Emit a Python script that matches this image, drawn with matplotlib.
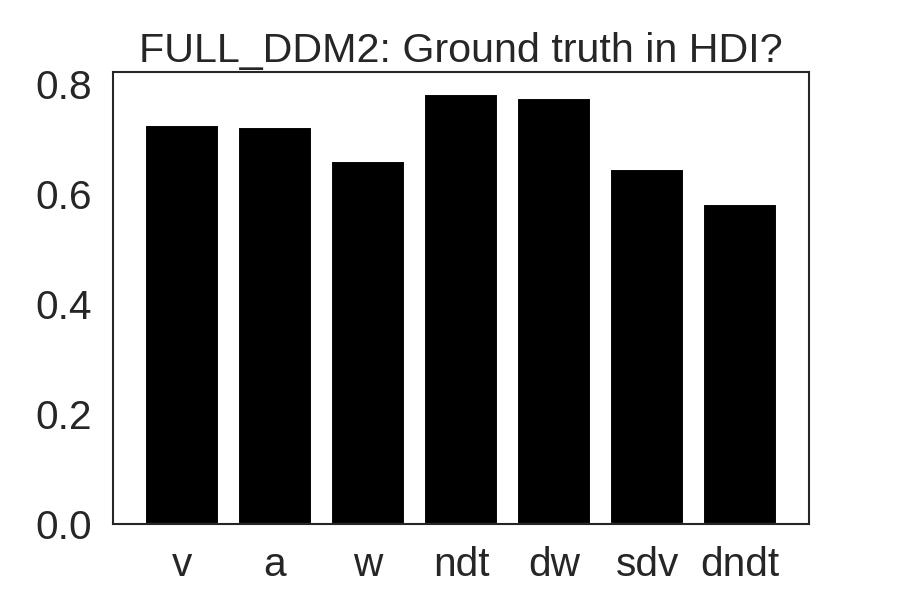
import matplotlib
matplotlib.use("Agg")
import matplotlib.pyplot as plt
import seaborn as sns

params = ["v", "a", "w", "ndt", "dw", "sdv", "dndt"]
in_hdi = [0.724, 0.722, 0.660, 0.782, 0.773, 0.645, 0.582]

sns.set_style("white")
plt.rcParams["font.family"] = ["Liberation Sans", "DejaVu Sans"]

fig = plt.figure(figsize=(6, 4), dpi=150)
ax = fig.add_axes([0.1256, 0.1267, 0.7733, 0.7533])
ax.bar(params, in_hdi, color="black", width=0.8)
ax.set_title("FULL_DDM2: Ground truth in HDI?", fontsize=19.8, color=".15", pad=5)
ax.set_yticks([0.0, 0.2, 0.4, 0.6, 0.8])
ax.tick_params(axis="both", labelsize=19.5, colors=".15", length=0)
ax.tick_params(axis="y", pad=10)
ax.tick_params(axis="x", pad=10.5)
for sp in ax.spines.values():
    sp.set_color(".15")
    sp.set_linewidth(1.0)

fig.savefig("out.png", dpi=150)
